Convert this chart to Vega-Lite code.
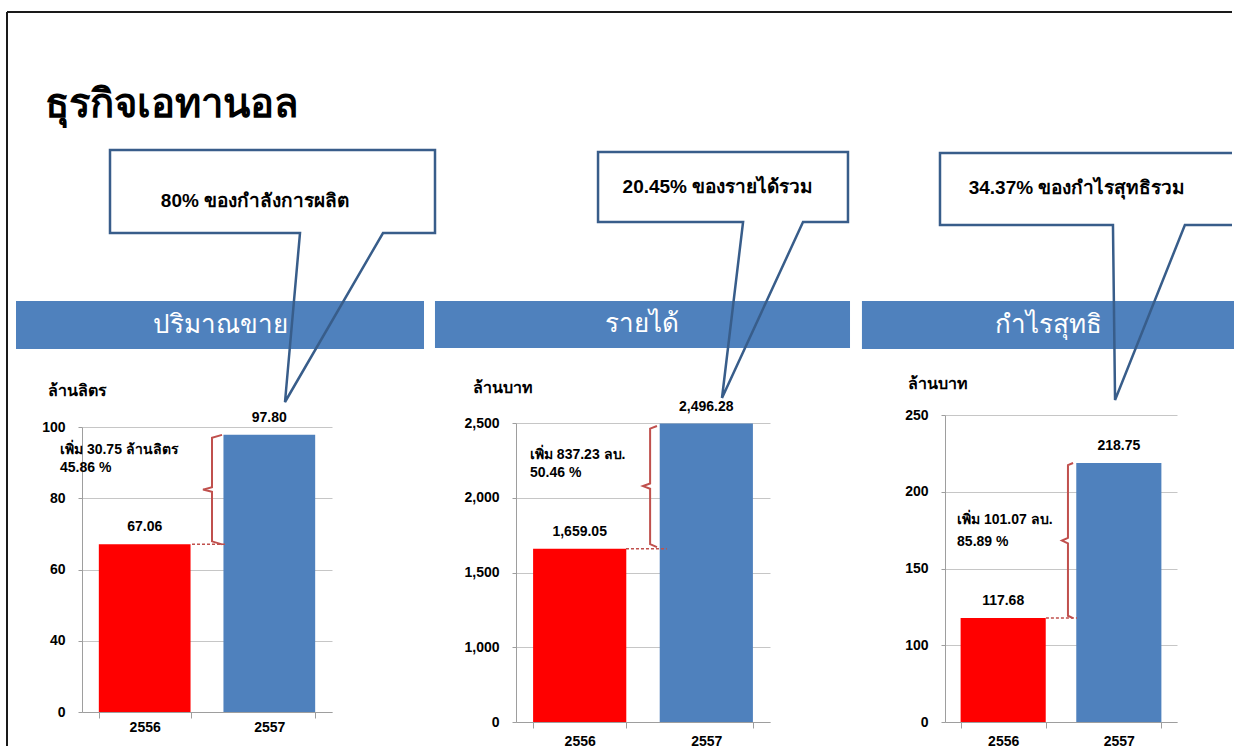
{
"$schema": "https://vega.github.io/schema/vega-lite/v6.json",
"background": "white",
"padding": {"left": 6, "top": 11, "right": 0, "bottom": 0},
"config": {"view": {"stroke": null}, "font": "Liberation Sans"},
"datasets": {
  "sales": [{"year": "2556", "value": 67.06}, {"year": "2557", "value": 97.8}],
  "revenue": [{"year": "2556", "value": 1659.05}, {"year": "2557", "value": 2496.28}],
  "profit": [{"year": "2556", "value": 117.68}, {"year": "2557", "value": 218.75}]
},
"spacing": 434,
"bounds": "flush",
"hconcat": [
 {
  "spacing": 77,
  "bounds": "flush",
  "vconcat": [
   {
    "width": 250, "height": 200,
    "data": {"values": [{}]},
    "layer": [
     {"mark": {"type": "rule", "color": "#1a1a1a", "strokeWidth": 2},
      "encoding": {"x": {"datum": -0.3, "type": "quantitative", "scale": {"domain": [0, 1], "nice": false, "zero": false}, "axis": null}, "x2": {"datum": 4.6}, "y": {"datum": 1.69, "type": "quantitative", "scale": {"domain": [0, 1], "nice": false, "zero": false}, "axis": null}}},
     {"mark": {"type": "rule", "color": "#1a1a1a", "strokeWidth": 2},
      "encoding": {"x": {"datum": -0.3, "type": "quantitative", "axis": null}, "y": {"datum": 1.69, "type": "quantitative", "axis": null}, "y2": {"datum": -1.98}}},
     {"mark": {"type": "text", "align": "left", "baseline": "alphabetic", "fontSize": 40, "fontWeight": "bold", "color": "#000000"},
      "encoding": {"x": {"datum": -0.148, "type": "quantitative", "axis": null}, "y": {"datum": 1.165, "type": "quantitative", "axis": null}, "text": {"value": "ธุรกิจเอทานอล"}}},
     {"mark": {"type": "rect", "color": "#4f81bd"},
      "encoding": {"x": {"datum": -0.264, "type": "quantitative", "axis": null}, "x2": {"datum": 1.368}, "y": {"datum": 0.245, "type": "quantitative", "axis": null}, "y2": {"datum": 0.005}}},
     {"mark": {"type": "text", "align": "center", "baseline": "middle", "fontSize": 26, "color": "#ffffff"},
      "encoding": {"x": {"datum": 0.552, "type": "quantitative", "axis": null}, "y": {"datum": 0.125, "type": "quantitative", "axis": null}, "text": {"value": "ปริมาณขาย"}}},
     {"data": {"values": [
        {"i": 0, "px": 0.112, "py": 1.0}, {"i": 1, "px": 1.412, "py": 1.0}, {"i": 2, "px": 1.412, "py": 0.585},
        {"i": 3, "px": 1.204, "py": 0.585}, {"i": 4, "px": 0.812, "py": -0.26}, {"i": 5, "px": 0.872, "py": 0.585},
        {"i": 6, "px": 0.112, "py": 0.585}, {"i": 7, "px": 0.112, "py": 1.0}, {"i": 8, "px": 0.2, "py": 1.0}]},
      "mark": {"type": "line", "color": "#385d8a", "strokeWidth": 2.5, "strokeJoin": "miter"},
      "encoding": {"x": {"field": "px", "type": "quantitative", "axis": null}, "y": {"field": "py", "type": "quantitative", "axis": null}, "order": {"field": "i", "type": "quantitative"}}},
     {"mark": {"type": "text", "align": "center", "baseline": "middle", "fontSize": 19, "fontWeight": "bold", "color": "#000000"},
      "encoding": {"x": {"datum": 0.692, "type": "quantitative", "axis": null}, "y": {"datum": 0.745, "type": "quantitative", "axis": null}, "text": {"value": "80% ของกำลังการผลิต"}}}
    ]
   },
   {
    "width": 250, "height": 285,
    "data": {"name": "sales"},
    "resolve": {"scale": {"x": "independent"}},
    "layer": [
     {"layer": [
      {"mark": {"type": "bar"},
       "encoding": {
        "x": {"field": "year", "type": "nominal", "scale": {"paddingInner": 0.264, "paddingOuter": 0.135},
              "axis": {"title": null, "labelAngle": 0, "labelFontSize": 14, "labelFontWeight": "bold", "labelColor": "#000000", "domainColor": "#9e9e9e", "tickColor": "#9e9e9e", "tickSize": 6, "tickBand": "extent", "labelPadding": 2}},
        "y": {"field": "value", "type": "quantitative", "scale": {"domain": [0, 40, 100], "range": [285, 213.75, 0], "nice": false, "zero": false},
              "axis": {"values": [0, 40, 60, 80, 100], "format": ",.0f", "grid": true, "gridColor": "#c6c6c6", "domainColor": "#9e9e9e", "tickColor": "#9e9e9e", "tickSize": 4, "labelPadding": 13, "labelFontSize": 14, "labelFontWeight": "bold", "labelColor": "#000000", "title": "ล้านลิตร", "titleAngle": 0, "titleAlign": "left", "titleBaseline": "middle", "titleX": -35, "titleY": -37, "titleFontSize": 16, "titleFontWeight": "bold", "titleColor": "#000000"}},
        "color": {"field": "year", "type": "nominal", "scale": {"domain": ["2556", "2557"], "range": ["#ff0000", "#4f81bd"]}, "legend": null}
       }},
      {"mark": {"type": "text", "dy": -17, "fontSize": 14, "fontWeight": "bold", "color": "#000000", "baseline": "middle"},
       "encoding": {"x": {"field": "year", "type": "nominal"}, "y": {"field": "value", "type": "quantitative"}, "text": {"field": "value", "type": "quantitative", "format": ",.2f"}}}
     ]},
     {"layer": [
      {"data": {"values": [
         {"i": 0, "px": 0.56, "py": 97.8}, {"i": 1, "px": 0.52, "py": 97.0}, {"i": 2, "px": 0.52, "py": 83.1},
         {"i": 3, "px": 0.484, "py": 82.43}, {"i": 4, "px": 0.52, "py": 81.8}, {"i": 5, "px": 0.52, "py": 67.9}, {"i": 6, "px": 0.56, "py": 67.06}]},
       "mark": {"type": "line", "color": "#c0504d", "strokeWidth": 2},
       "encoding": {"x": {"field": "px", "type": "quantitative", "scale": {"domain": [0, 1], "nice": false, "zero": false}, "axis": null}, "y": {"field": "py", "type": "quantitative"}, "order": {"field": "i", "type": "quantitative"}}},
      {"data": {"values": [{}]},
       "mark": {"type": "rule", "color": "#c0504d", "strokeWidth": 1.5, "strokeDash": [3, 2]},
       "encoding": {"x": {"datum": 0.44, "type": "quantitative", "axis": null}, "x2": {"datum": 0.572}, "y": {"datum": 67.06, "type": "quantitative"}}},
      {"data": {"values": [{}]},
       "mark": {"type": "text", "align": "left", "baseline": "middle", "fontSize": 14, "fontWeight": "bold", "color": "#000000"},
       "encoding": {"x": {"datum": -0.088, "type": "quantitative", "axis": null}, "y": {"datum": 93.5, "type": "quantitative"}, "text": {"value": "เพิ่ม 30.75 ล้านลิตร"}}},
      {"data": {"values": [{}]},
       "mark": {"type": "text", "align": "left", "baseline": "middle", "fontSize": 14, "fontWeight": "bold", "color": "#000000"},
       "encoding": {"x": {"datum": -0.088, "type": "quantitative", "axis": null}, "y": {"datum": 88.6, "type": "quantitative"}, "text": {"value": "45.86 %"}}}
     ]}
    ]
   }
  ]
 },
 {
  "spacing": 429,
  "bounds": "flush",
  "hconcat": [
   {
    "spacing": 73,
    "bounds": "flush",
    "vconcat": [
     {
      "width": 254, "height": 200,
      "data": {"values": [{}]},
      "layer": [
       {"mark": {"type": "rect", "color": "#4f81bd"},
        "encoding": {"x": {"datum": -0.319, "type": "quantitative", "scale": {"domain": [0, 1], "nice": false, "zero": false}, "axis": null}, "x2": {"datum": 1.315}, "y": {"datum": 0.245, "type": "quantitative", "scale": {"domain": [0, 1], "nice": false, "zero": false}, "axis": null}, "y2": {"datum": 0.01}}},
       {"mark": {"type": "text", "align": "center", "baseline": "middle", "fontSize": 26, "color": "#ffffff"},
        "encoding": {"x": {"datum": 0.496, "type": "quantitative", "axis": null}, "y": {"datum": 0.128, "type": "quantitative", "axis": null}, "text": {"value": "รายได้"}}},
       {"data": {"values": [
          {"i": 0, "px": 0.323, "py": 0.99}, {"i": 1, "px": 1.307, "py": 0.99}, {"i": 2, "px": 1.307, "py": 0.64},
          {"i": 3, "px": 1.13, "py": 0.64}, {"i": 4, "px": 0.811, "py": -0.24}, {"i": 5, "px": 0.894, "py": 0.64},
          {"i": 6, "px": 0.323, "py": 0.64}, {"i": 7, "px": 0.323, "py": 0.99}, {"i": 8, "px": 0.4, "py": 0.99}]},
        "mark": {"type": "line", "color": "#385d8a", "strokeWidth": 2.5, "strokeJoin": "miter"},
        "encoding": {"x": {"field": "px", "type": "quantitative", "axis": null}, "y": {"field": "py", "type": "quantitative", "axis": null}, "order": {"field": "i", "type": "quantitative"}}},
       {"mark": {"type": "text", "align": "center", "baseline": "middle", "fontSize": 19, "fontWeight": "bold", "color": "#000000"},
        "encoding": {"x": {"datum": 0.795, "type": "quantitative", "axis": null}, "y": {"datum": 0.815, "type": "quantitative", "axis": null}, "text": {"value": "20.45% ของรายได้รวม"}}}
      ]
     },
     {
      "width": 254, "height": 299,
      "data": {"name": "revenue"},
      "resolve": {"scale": {"x": "independent"}},
      "layer": [
       {"layer": [
        {"mark": {"type": "bar"},
         "encoding": {
          "x": {"field": "year", "type": "nominal", "scale": {"paddingInner": 0.264, "paddingOuter": 0.135},
                "axis": {"title": null, "labelAngle": 0, "labelFontSize": 14, "labelFontWeight": "bold", "labelColor": "#000000", "domainColor": "#9e9e9e", "tickColor": "#9e9e9e", "tickSize": 6, "tickBand": "extent", "labelPadding": 6}},
          "y": {"field": "value", "type": "quantitative", "scale": {"domain": [0, 1000, 2500], "range": [299, 224.25, 0], "nice": false, "zero": false},
                "axis": {"values": [0, 1000, 1500, 2000, 2500], "format": ",.0f", "grid": true, "gridColor": "#c6c6c6", "domainColor": "#9e9e9e", "tickColor": "#9e9e9e", "tickSize": 4, "labelPadding": 13, "labelFontSize": 14, "labelFontWeight": "bold", "labelColor": "#000000", "title": "ล้านบาท", "titleAngle": 0, "titleAlign": "left", "titleBaseline": "middle", "titleX": -44, "titleY": -36, "titleFontSize": 16, "titleFontWeight": "bold", "titleColor": "#000000"}},
          "color": {"field": "year", "type": "nominal", "scale": {"domain": ["2556", "2557"], "range": ["#ff0000", "#4f81bd"]}, "legend": null}
         }},
        {"mark": {"type": "text", "dy": -17, "fontSize": 14, "fontWeight": "bold", "color": "#000000", "baseline": "middle"},
         "encoding": {"x": {"field": "year", "type": "nominal"}, "y": {"field": "value", "type": "quantitative"}, "text": {"field": "value", "type": "quantitative", "format": ",.2f"}}}
       ]},
       {"layer": [
        {"data": {"values": [
           {"i": 0, "px": 0.555, "py": 2480}, {"i": 1, "px": 0.528, "py": 2462}, {"i": 2, "px": 0.528, "py": 2095},
           {"i": 3, "px": 0.5, "py": 2077.7}, {"i": 4, "px": 0.528, "py": 2060}, {"i": 5, "px": 0.528, "py": 1690}, {"i": 6, "px": 0.555, "py": 1670}]},
         "mark": {"type": "line", "color": "#c0504d", "strokeWidth": 2},
         "encoding": {"x": {"field": "px", "type": "quantitative", "scale": {"domain": [0, 1], "nice": false, "zero": false}, "axis": null}, "y": {"field": "py", "type": "quantitative"}, "order": {"field": "i", "type": "quantitative"}}},
        {"data": {"values": [{}]},
         "mark": {"type": "rule", "color": "#c0504d", "strokeWidth": 1.5, "strokeDash": [3, 2]},
         "encoding": {"x": {"datum": 0.433, "type": "quantitative", "axis": null}, "x2": {"datum": 0.594}, "y": {"datum": 1659.05, "type": "quantitative"}}},
        {"data": {"values": [{}]},
         "mark": {"type": "text", "align": "left", "baseline": "middle", "fontSize": 14, "fontWeight": "bold", "color": "#000000"},
         "encoding": {"x": {"datum": 0.055, "type": "quantitative", "axis": null}, "y": {"datum": 2286, "type": "quantitative"}, "text": {"value": "เพิ่ม 837.23 ลบ."}}},
        {"data": {"values": [{}]},
         "mark": {"type": "text", "align": "left", "baseline": "middle", "fontSize": 14, "fontWeight": "bold", "color": "#000000"},
         "encoding": {"x": {"datum": 0.055, "type": "quantitative", "axis": null}, "y": {"datum": 2168, "type": "quantitative"}, "text": {"value": "50.46 %"}}}
       ]}
      ]
     }
    ]
   },
   {
    "spacing": 65,
    "bounds": "flush",
    "vconcat": [
     {
      "width": 232, "height": 200,
      "data": {"values": [{}]},
      "layer": [
       {"mark": {"type": "rect", "color": "#4f81bd"},
        "encoding": {"x": {"datum": -0.358, "type": "quantitative", "scale": {"domain": [0, 1], "nice": false, "zero": false}, "axis": null}, "x2": {"datum": 1.2457}, "y": {"datum": 0.245, "type": "quantitative", "scale": {"domain": [0, 1], "nice": false, "zero": false}, "axis": null}, "y2": {"datum": 0.005}}},
       {"mark": {"type": "text", "align": "center", "baseline": "middle", "fontSize": 26, "color": "#ffffff"},
        "encoding": {"x": {"datum": 0.444, "type": "quantitative", "axis": null}, "y": {"datum": 0.125, "type": "quantitative", "axis": null}, "text": {"value": "กำไรสุทธิ"}}},
       {"data": {"values": [
          {"i": 0, "px": 1.237, "py": 0.985}, {"i": 1, "px": -0.0216, "py": 0.985}, {"i": 2, "px": -0.0216, "py": 0.625},
          {"i": 3, "px": 0.724, "py": 0.625}, {"i": 4, "px": 0.733, "py": -0.25}, {"i": 5, "px": 1.034, "py": 0.625},
          {"i": 6, "px": 1.237, "py": 0.625}]},
        "mark": {"type": "line", "color": "#385d8a", "strokeWidth": 2.5, "strokeJoin": "miter"},
        "encoding": {"x": {"field": "px", "type": "quantitative", "axis": null}, "y": {"field": "py", "type": "quantitative", "axis": null}, "order": {"field": "i", "type": "quantitative"}}},
       {"mark": {"type": "text", "align": "center", "baseline": "middle", "fontSize": 19, "fontWeight": "bold", "color": "#000000"},
        "encoding": {"x": {"datum": 0.569, "type": "quantitative", "axis": null}, "y": {"datum": 0.81, "type": "quantitative", "axis": null}, "text": {"value": "34.37% ของกำไรสุทธิรวม"}}}
      ]
     },
     {
      "width": 232, "height": 307,
      "data": {"name": "profit"},
      "resolve": {"scale": {"x": "independent"}},
      "layer": [
       {"layer": [
        {"mark": {"type": "bar"},
         "encoding": {
          "x": {"field": "year", "type": "nominal", "scale": {"paddingInner": 0.264, "paddingOuter": 0.135},
                "axis": {"title": null, "labelAngle": 0, "labelFontSize": 14, "labelFontWeight": "bold", "labelColor": "#000000", "domainColor": "#9e9e9e", "tickColor": "#9e9e9e", "tickSize": 6, "tickBand": "extent", "labelPadding": 6}},
          "y": {"field": "value", "type": "quantitative", "scale": {"domain": [0, 100, 250], "range": [307, 230.25, 0], "nice": false, "zero": false},
                "axis": {"values": [0, 100, 150, 200, 250], "format": ",.0f", "grid": true, "gridColor": "#c6c6c6", "domainColor": "#9e9e9e", "tickColor": "#9e9e9e", "tickSize": 4, "labelPadding": 13, "labelFontSize": 14, "labelFontWeight": "bold", "labelColor": "#000000", "title": "ล้านบาท", "titleAngle": 0, "titleAlign": "left", "titleBaseline": "middle", "titleX": -38, "titleY": -32, "titleFontSize": 16, "titleFontWeight": "bold", "titleColor": "#000000"}},
          "color": {"field": "year", "type": "nominal", "scale": {"domain": ["2556", "2557"], "range": ["#ff0000", "#4f81bd"]}, "legend": null}
         }},
        {"mark": {"type": "text", "dy": -17, "fontSize": 14, "fontWeight": "bold", "color": "#000000", "baseline": "middle"},
         "encoding": {"x": {"field": "year", "type": "nominal"}, "y": {"field": "value", "type": "quantitative"}, "text": {"field": "value", "type": "quantitative", "format": ",.2f"}}}
       ]},
       {"layer": [
        {"data": {"values": [
           {"i": 0, "px": 0.552, "py": 218.75}, {"i": 1, "px": 0.53, "py": 217.3}, {"i": 2, "px": 0.53, "py": 170},
           {"i": 3, "px": 0.504, "py": 168.2}, {"i": 4, "px": 0.53, "py": 166.4}, {"i": 5, "px": 0.53, "py": 119.2}, {"i": 6, "px": 0.552, "py": 117.68}]},
         "mark": {"type": "line", "color": "#c0504d", "strokeWidth": 2},
         "encoding": {"x": {"field": "px", "type": "quantitative", "scale": {"domain": [0, 1], "nice": false, "zero": false}, "axis": null}, "y": {"field": "py", "type": "quantitative"}, "order": {"field": "i", "type": "quantitative"}}},
        {"data": {"values": [{}]},
         "mark": {"type": "rule", "color": "#c0504d", "strokeWidth": 1.5, "strokeDash": [3, 2]},
         "encoding": {"x": {"datum": 0.435, "type": "quantitative", "axis": null}, "x2": {"datum": 0.569}, "y": {"datum": 117.68, "type": "quantitative"}}},
        {"data": {"values": [{}]},
         "mark": {"type": "text", "align": "left", "baseline": "middle", "fontSize": 14, "fontWeight": "bold", "color": "#000000"},
         "encoding": {"x": {"datum": 0.052, "type": "quantitative", "axis": null}, "y": {"datum": 181.5, "type": "quantitative"}, "text": {"value": "เพิ่ม 101.07 ลบ."}}},
        {"data": {"values": [{}]},
         "mark": {"type": "text", "align": "left", "baseline": "middle", "fontSize": 14, "fontWeight": "bold", "color": "#000000"},
         "encoding": {"x": {"datum": 0.052, "type": "quantitative", "axis": null}, "y": {"datum": 167.5, "type": "quantitative"}, "text": {"value": "85.89 %"}}}
       ]}
      ]
     }
    ]
   }
  ]
 }
]
}
